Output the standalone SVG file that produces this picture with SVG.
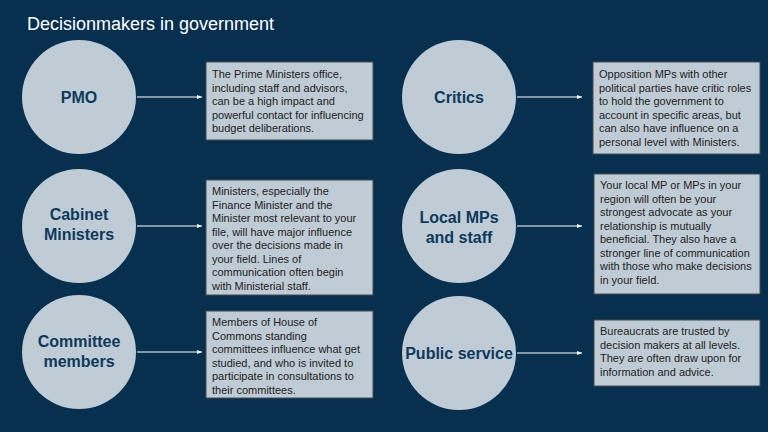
<svg xmlns="http://www.w3.org/2000/svg" width="768" height="432" viewBox="0 0 768 432">
<defs>
<marker id="ah" markerWidth="6" markerHeight="6" refX="5" refY="3" orient="auto" markerUnits="userSpaceOnUse"><path d="M0,1 L5,3 L0,5 Z" fill="#fff"/></marker>
<style>
.c{fill:#bfccd5}
.cl{font:bold 16px "Liberation Sans",Arial,sans-serif;fill:#0d3a5c;text-anchor:middle}
.b{fill:#bfccd5;stroke:#4a4a4a;stroke-width:1}
.t{font:11px "Liberation Sans",Arial,sans-serif;fill:#222}
.a{stroke:#fff;stroke-width:1;marker-end:url(#ah)}
</style>
</defs>
<rect width="768" height="432" fill="#07304f"/>
<text x="27" y="30" font-family="Liberation Sans,Arial,sans-serif" font-size="18" fill="#fff">Decisionmakers in government</text>
<g id="connectors">
<line class="a" x1="137" y1="97" x2="202" y2="97"/>
<line class="a" x1="137" y1="226" x2="202" y2="226"/>
<line class="a" x1="137" y1="352" x2="202" y2="352"/>
<line class="a" x1="517" y1="97" x2="582" y2="97"/>
<line class="a" x1="517" y1="226" x2="582" y2="226"/>
<line class="a" x1="517" y1="353" x2="582" y2="353"/>
</g>
<g id="pmo"><circle class="c" cx="79" cy="97" r="57"/><text class="cl" x="79" y="103">PMO</text></g>
<g id="pmo-desc"><rect class="b" x="206" y="62" width="167" height="78"/>
<text class="t" x="212" y="78">The Prime Ministers office,<tspan x="212" dy="13.5">including staff and advisors,</tspan><tspan x="212" dy="13.5">can be a high impact and</tspan><tspan x="212" dy="13.5">powerful contact for influencing</tspan><tspan x="212" dy="13.5">budget deliberations.</tspan></text></g>
<g id="cabinet"><circle class="c" cx="79" cy="226" r="57"/><text class="cl" x="79" y="220">Cabinet<tspan x="79" dy="20">Ministers</tspan></text></g>
<g id="cabinet-desc"><rect class="b" x="206" y="180" width="167" height="115"/>
<text class="t" x="212" y="195">Ministers, especially the<tspan x="212" dy="13.5">Finance Minister and the</tspan><tspan x="212" dy="13.5">Minister most relevant to your</tspan><tspan x="212" dy="13.5">file, will have major influence</tspan><tspan x="212" dy="13.5">over the decisions made in</tspan><tspan x="212" dy="13.5">your field. Lines of</tspan><tspan x="212" dy="13.5">communication often begin</tspan><tspan x="212" dy="13.5">with Ministerial staff.</tspan></text></g>
<g id="committee"><circle class="c" cx="79" cy="352" r="57"/><text class="cl" x="79" y="347">Committee<tspan x="79" dy="20">members</tspan></text></g>
<g id="committee-desc"><rect class="b" x="206" y="311" width="167" height="87"/>
<text class="t" x="212" y="326">Members of House of<tspan x="212" dy="13.5">Commons standing</tspan><tspan x="212" dy="13.5">committees influence what get</tspan><tspan x="212" dy="13.5">studied, and who is invited to</tspan><tspan x="212" dy="13.5">participate in consultations to</tspan><tspan x="212" dy="13.5">their committees.</tspan></text></g>
<g id="critics"><circle class="c" cx="459" cy="97" r="57"/><text class="cl" x="459" y="103">Critics</text></g>
<g id="critics-desc"><rect class="b" x="593" y="62" width="167" height="92"/>
<text class="t" x="599" y="78">Opposition MPs with other<tspan x="599" dy="13.5">political parties have critic roles</tspan><tspan x="599" dy="13.5">to hold the government to</tspan><tspan x="599" dy="13.5">account in specific areas, but</tspan><tspan x="599" dy="13.5">can also have influence on a</tspan><tspan x="599" dy="13.5">personal level with Ministers.</tspan></text></g>
<g id="local"><circle class="c" cx="459" cy="226" r="57"/><text class="cl" x="459" y="223">Local MPs<tspan x="459" dy="20">and staff</tspan></text></g>
<g id="local-desc"><rect class="b" x="594" y="174" width="166" height="120"/>
<text class="t" x="600" y="189">Your local MP or MPs in your<tspan x="600" dy="13.5">region will often be your</tspan><tspan x="600" dy="13.5">strongest advocate as your</tspan><tspan x="600" dy="13.5">relationship is mutually</tspan><tspan x="600" dy="13.5">beneficial. They also have a</tspan><tspan x="600" dy="13.5">stronger line of communication</tspan><tspan x="600" dy="13.5">with those who make decisions</tspan><tspan x="600" dy="13.5">in your field.</tspan></text></g>
<g id="public"><circle class="c" cx="459" cy="353" r="57"/><text class="cl" x="459" y="359">Public service</text></g>
<g id="public-desc"><rect class="b" x="594" y="320" width="166" height="66"/>
<text class="t" x="600" y="335">Bureaucrats are trusted by<tspan x="600" dy="13.5">decision makers at all levels.</tspan><tspan x="600" dy="13.5">They are often draw upon for</tspan><tspan x="600" dy="13.5">information and advice.</tspan></text></g>
</svg>
